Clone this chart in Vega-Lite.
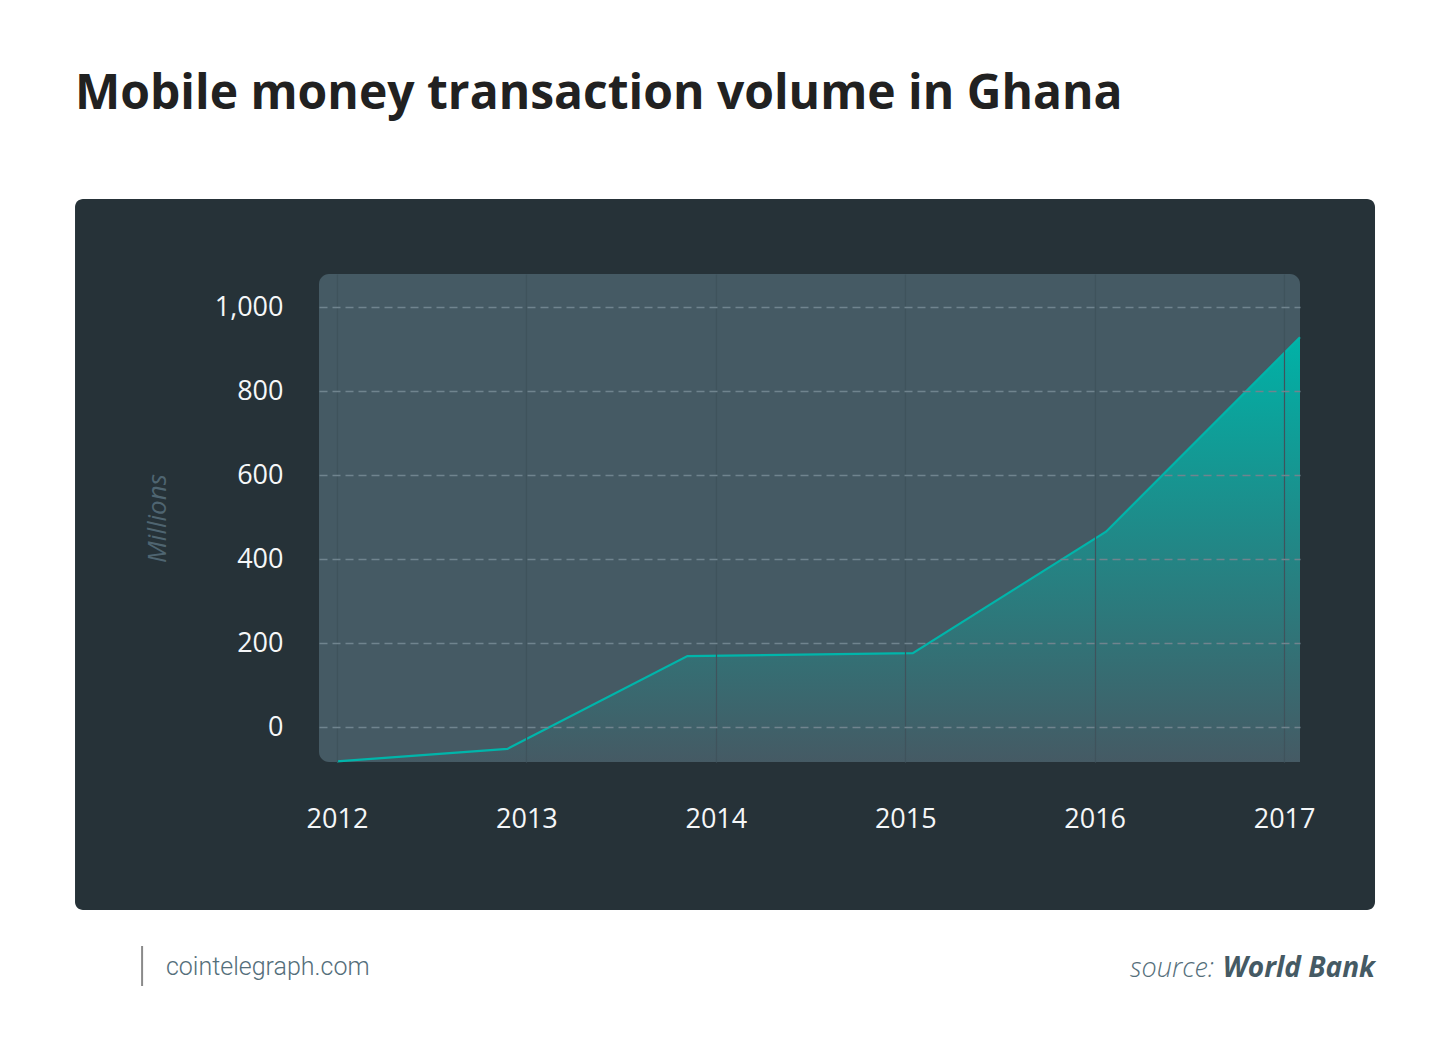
{
  "$schema": "https://vega.github.io/schema/vega-lite/v6.json",
  "width": 981,
  "height": 488,
  "autosize": "none",
  "padding": {"left": 319, "top": 274, "right": 150, "bottom": 290},
  "background": "#ffffff",
  "title": {
    "text": "Mobile money transaction volume in Ghana",
    "anchor": "start",
    "frame": "group",
    "dx": -244,
    "offset": 42,
    "baseline": "alphabetic",
    "font": "Open Sans",
    "fontSize": 48,
    "fontWeight": "bold",
    "color": "#212121"
  },
  "data": {
    "values": [
      {"year": 2012.0, "volume": -82},
      {"year": 2012.9, "volume": -52},
      {"year": 2013.85, "volume": 169},
      {"year": 2015.04, "volume": 176},
      {"year": 2016.06, "volume": 465},
      {"year": 2017.084, "volume": 928}
    ]
  },
  "layer": [
    {
      "data": {"values": [{}]},
      "mark": {"type": "rect", "fill": "#263238", "cornerRadius": 8},
      "encoding": {
        "x": {"datum": 2010.617, "type": "quantitative"},
        "x2": {"datum": 2017.48},
        "y": {"datum": -435.7, "type": "quantitative"},
        "y2": {"datum": 1257.1}
      }
    },
    {
      "data": {"values": [{}]},
      "mark": {"type": "rect", "fill": "#455a64", "cornerRadius": 10},
      "encoding": {
        "x": {"datum": 2011.905, "type": "quantitative"},
        "x2": {"datum": 2017.084},
        "y": {"datum": -83.3, "type": "quantitative"},
        "y2": {"datum": 1078.6}
      }
    },
    {
      "mark": {
        "type": "area",
        "color": {
          "gradient": "linear",
          "x1": 0, "y1": 1, "x2": 0, "y2": 0,
          "stops": [
            {"offset": 0, "color": "#455a64"},
            {"offset": 1, "color": "#00b2a7"}
          ]
        }
      },
      "encoding": {
        "x": {
          "field": "year",
          "type": "quantitative",
          "scale": {"domain": [2011.905, 2017.084], "nice": false, "zero": false},
          "axis": {
            "values": [2012, 2013, 2014, 2015, 2016, 2017],
            "format": "d",
            "title": null,
            "domain": false,
            "ticks": false,
            "labelPadding": 44,
            "labelFont": "Open Sans",
            "labelFontSize": 27,
            "labelColor": "#f5f7f8",
            "grid": true,
            "gridColor": "#3f535c",
            "gridWidth": 1.2,
            "zindex": 1
          }
        },
        "y": {
          "field": "volume",
          "type": "quantitative",
          "scale": {"domain": [-83.3, 1078.6], "nice": false, "zero": false},
          "axis": {
            "values": [0, 200, 400, 600, 800, 1000],
            "format": ",.0f",
            "title": "Millions",
            "titleFont": "Open Sans",
            "titleFontSize": 26,
            "titleFontStyle": "italic",
            "titleFontWeight": "normal",
            "titleColor": "#4f6571",
            "titleX": -162,
            "titleY": 244,
            "titleAngle": -90,
            "titleAlign": "center",
            "titleBaseline": "middle",
            "domain": false,
            "ticks": false,
            "labelPadding": 36,
            "labelFont": "Open Sans",
            "labelFontSize": 27,
            "labelColor": "#f5f7f8",
            "grid": true,
            "gridColor": "#70848e",
            "gridDash": [8, 5],
            "gridWidth": 1.5,
            "zindex": 1
          }
        },
        "y2": {"datum": -83.3}
      }
    },
    {
      "mark": {"type": "line", "color": "#00b5aa", "strokeWidth": 2.2},
      "encoding": {
        "x": {"field": "year", "type": "quantitative"},
        "y": {"field": "volume", "type": "quantitative"}
      }
    },
    {
      "data": {"values": [{}]},
      "mark": {"type": "rule", "color": "#8a8a8a", "strokeWidth": 2},
      "encoding": {
        "x": {"datum": 2010.971, "type": "quantitative"},
        "y": {"datum": -521.4, "type": "quantitative"},
        "y2": {"datum": -616.7}
      }
    },
    {
      "data": {"values": [{}]},
      "mark": {
        "type": "text",
        "text": "cointelegraph.com",
        "align": "left",
        "baseline": "alphabetic",
        "font": "Roboto",
        "fontWeight": 300,
        "fontSize": 25,
        "color": "#546e7a"
      },
      "encoding": {
        "x": {"datum": 2011.097, "type": "quantitative"},
        "y": {"datum": -590.5, "type": "quantitative"}
      }
    },
    {
      "data": {"values": [{}]},
      "mark": {
        "type": "text",
        "text": "World Bank",
        "align": "right",
        "baseline": "alphabetic",
        "font": "Open Sans",
        "fontStyle": "italic",
        "fontWeight": "bold",
        "fontSize": 28,
        "color": "#455a64"
      },
      "encoding": {
        "x": {"datum": 2017.48, "type": "quantitative"},
        "y": {"datum": -595, "type": "quantitative"}
      }
    },
    {
      "data": {"values": [{}]},
      "mark": {
        "type": "text",
        "text": "source:",
        "align": "right",
        "baseline": "alphabetic",
        "font": "Open Sans",
        "fontStyle": "italic",
        "fontWeight": 300,
        "fontSize": 27,
        "color": "#546e7a"
      },
      "encoding": {
        "x": {"datum": 2016.63, "type": "quantitative"},
        "y": {"datum": -595, "type": "quantitative"}
      }
    }
  ],
  "config": {
    "view": {"stroke": null}
  }
}
